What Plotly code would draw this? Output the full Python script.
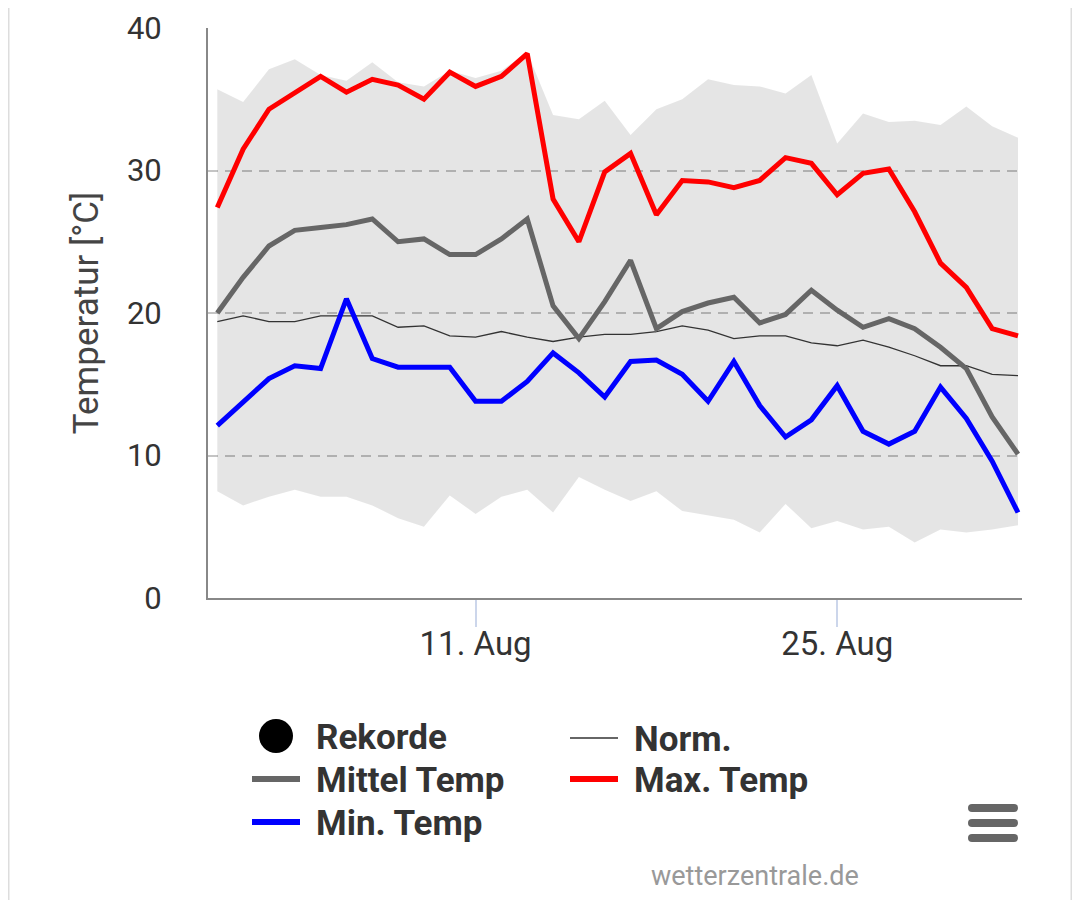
import plotly.graph_objects as go
import pandas as pd

dates = pd.date_range("2023-08-01", "2023-09-01", freq="D")

max_temp = [27.4, 31.5, 34.3, 35.4, 36.6, 35.5, 36.4, 36.0, 35.0, 36.9, 35.9, 36.6,
            38.2, 28.0, 25.0, 29.9, 31.2, 26.9, 29.3, 29.2, 28.8, 29.3, 30.9, 30.5,
            28.3, 29.8, 30.1, 27.1, 23.5, 21.8, 18.9, 18.4]
mittel_temp = [20.0, 22.5, 24.7, 25.8, 26.0, 26.2, 26.6, 25.0, 25.2, 24.1, 24.1, 25.2,
               26.6, 20.5, 18.2, 20.8, 23.7, 18.9, 20.1, 20.7, 21.1, 19.3, 19.9, 21.6,
               20.2, 19.0, 19.6, 18.9, 17.6, 16.1, 12.7, 10.1]
min_temp = [12.1, 13.8, 15.4, 16.3, 16.1, 21.0, 16.8, 16.2, 16.2, 16.2, 13.8, 13.8,
            15.2, 17.2, 15.8, 14.1, 16.6, 16.7, 15.7, 13.8, 16.6, 13.5, 11.3, 12.5,
            14.9, 11.7, 10.8, 11.7, 14.8, 12.6, 9.6, 6.0]
norm_temp = [19.4, 19.8, 19.4, 19.4, 19.8, 19.8, 19.8, 19.0, 19.1, 18.4, 18.3, 18.7,
             18.3, 18.0, 18.3, 18.5, 18.5, 18.7, 19.1, 18.8, 18.2, 18.4, 18.4, 17.9,
             17.7, 18.1, 17.6, 17.0, 16.3, 16.3, 15.7, 15.6]
record_high = [35.7, 34.8, 37.1, 37.8, 36.7, 36.3, 37.6, 36.2, 35.9, 37.0, 36.5, 37.0,
               38.3, 33.9, 33.6, 34.9, 32.5, 34.3, 35.0, 36.4, 36.0, 35.9, 35.4, 36.7,
               31.9, 34.0, 33.4, 33.5, 33.2, 34.5, 33.1, 32.3]
record_low = [7.5, 6.5, 7.1, 7.6, 7.1, 7.1, 6.5, 5.6, 5.0, 7.2, 5.9, 7.1,
              7.6, 6.0, 8.5, 7.6, 6.8, 7.5, 6.1, 5.8, 5.5, 4.6, 6.6, 4.9,
              5.4, 4.8, 5.0, 3.9, 4.8, 4.6, 4.8, 5.1]

y_ticks = [0, 10, 20, 30, 40]
x_tickvals = ["2023-08-11", "2023-08-25"]
x_ticktext = ["11. Aug", "25. Aug"]

FONT = "Roboto"

fig = go.Figure()
fig.add_trace(go.Scatter(x=dates, y=record_low, mode="lines", line=dict(width=0),
                         hoverinfo="skip", showlegend=False))
fig.add_trace(go.Scatter(x=dates, y=record_high, mode="lines", line=dict(width=0),
                         fill="tonexty", fillcolor="rgba(0,0,0,0.10)",
                         name="Rekorde", showlegend=False))
fig.add_trace(go.Scatter(x=dates, y=norm_temp, mode="lines", name="Norm.",
                         line=dict(color="#333333", width=1.3), showlegend=False))
fig.add_trace(go.Scatter(x=dates, y=mittel_temp, mode="lines", name="Mittel Temp",
                         line=dict(color="#666666", width=5), showlegend=False))
fig.add_trace(go.Scatter(x=dates, y=max_temp, mode="lines", name="Max. Temp",
                         line=dict(color="#ff0000", width=5), showlegend=False))
fig.add_trace(go.Scatter(x=dates, y=min_temp, mode="lines", name="Min. Temp",
                         line=dict(color="#0000ff", width=5), showlegend=False))

OFF = 8  # page offset of the figure inside the browser window
W, H = 1080 - OFF, 900 - OFF
L, R, T, B = 208, 1022, 28, 598  # plot area in window pixels


def px(x):
    return (x - L) / (R - L)


def py(y):
    return (B - y) / (B - T)


shapes = []
annotations = []

# manual legend
legend_items = [
    ("Rekorde", "circle", "#000000", 276, 314, 736),
    ("Norm.", "thin", "#333333", 594, 632, 738),
    ("Mittel Temp", "line", "#666666", 276, 314, 779),
    ("Max. Temp", "line", "#ff0000", 594, 632, 779),
    ("Min. Temp", "line", "#0000ff", 276, 314, 822),
]
for name, kind, color, cx, tx, cy in legend_items:
    if kind == "circle":
        r = 17
        shapes.append(dict(type="circle", xref="paper", yref="paper",
                           x0=px(cx - r), x1=px(cx + r), y0=py(cy + r), y1=py(cy - r),
                           fillcolor=color, line=dict(width=0)))
    else:
        shapes.append(dict(type="line", xref="paper", yref="paper",
                           x0=px(cx - 24), x1=px(cx + 24), y0=py(cy), y1=py(cy),
                           line=dict(color=color, width=1.3 if kind == "thin" else 6)))
    annotations.append(dict(text=name, xref="paper", yref="paper", x=px(tx), y=py(cy + 1),
                            xanchor="left", yanchor="middle", showarrow=False,
                            font=dict(family=FONT, size=35, color="#333333", weight="bold")))

# hamburger menu icon
for yy in [808, 823, 838]:
    shapes.append(dict(type="line", xref="paper", yref="paper",
                       x0=px(972), x1=px(1014), y0=py(yy), y1=py(yy),
                       line=dict(color="#666666", width=8)))
    for xx in [972, 1014]:
        shapes.append(dict(type="circle", xref="paper", yref="paper",
                           x0=px(xx - 4), x1=px(xx + 4), y0=py(yy + 4), y1=py(yy - 4),
                           fillcolor="#666666", line=dict(width=0)))

# page frame lines
for xx in [8, 1072]:
    shapes.append(dict(type="line", xref="paper", yref="paper",
                       x0=px(xx), x1=px(xx), y0=py(OFF), y1=py(900),
                       line=dict(color="#dddddd", width=3)))

annotations.append(dict(text="wetterzentrale.de", xref="paper", yref="paper",
                        x=px(861), y=py(876), xanchor="right", yanchor="middle",
                        showarrow=False, font=dict(family=FONT, size=27, color="#999999")))

fig.update_layout(
    width=W, height=H,
    margin=dict(l=L - OFF, r=1080 - R, t=T - OFF, b=900 - B, autoexpand=False),
    paper_bgcolor="white", plot_bgcolor="white",
    showlegend=False,
    font=dict(family=FONT),
    shapes=shapes, annotations=annotations,
)
fig.update_xaxes(
    type="date", automargin=False,
    range=["2023-07-31 15:22", "2023-09-01 03:43"],
    tickvals=x_tickvals, ticktext=x_ticktext,
    ticks="outside", ticklen=27, tickwidth=2, tickcolor="#ccd6eb",
    ticklabelstandoff=-12,
    showline=True, linecolor="#888888", linewidth=2,
    showgrid=False, zeroline=False,
    tickfont=dict(family=FONT, size=33, color="#333333"),
)
fig.update_yaxes(
    range=[0, 40], tickvals=y_ticks, automargin=False,
    showline=True, linecolor="#888888", linewidth=2,
    showgrid=True, gridcolor="#c4c4c4", gridwidth=2, griddash="10px,7px",
    zeroline=False, ticks="", ticklabelstandoff=38,
    tickfont=dict(family=FONT, size=31, color="#333333"),
    title=dict(text="Temperatur [°C]", standoff=18,
               font=dict(family=FONT, size=35, color="#444444")),
)

fig.write_html("out.html")
